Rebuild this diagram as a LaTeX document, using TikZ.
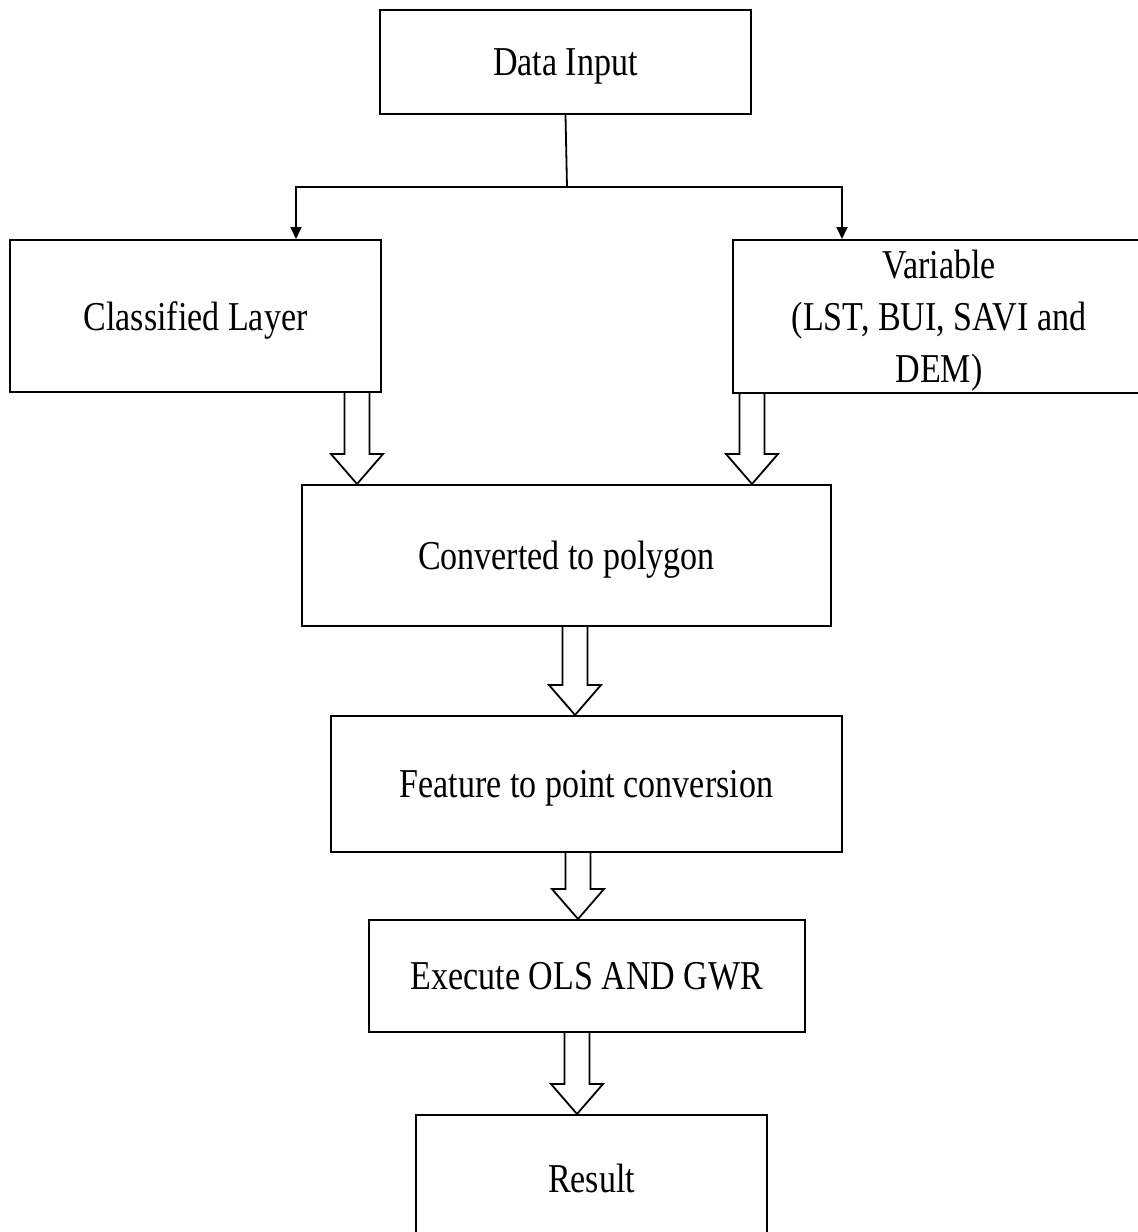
\documentclass[tikz,border=0pt]{standalone}
\usepackage{fontspec}
\setmainfont[FakeStretch=0.83]{Liberation Serif}
\usetikzlibrary{positioning,arrows.meta,calc}
\tikzset{
  box/.style={draw=black,line width=1pt,fill=white,align=center,inner sep=0pt,
              text depth=0pt,font=\fontsize{20.5}{26}\selectfont},
  arr/.style={-{Triangle[length=6pt,width=5.5pt]},line width=0.9pt,draw=black},
  barr/.style={draw=black,line width=0.9pt,fill=white,line join=miter}
}
% hollow block arrow: x position, from node, to node
\newcommand\blockarrow[3]{%
  \draw[barr] let \p3=(#1,0), \p1=(#2.south), \p2=(#3.north) in
    (\x3-6.25pt,\y1) -- (\x3-6.25pt,\y2+15pt) -- (\x3-13pt,\y2+15pt) -- (\x3,\y2)
    -- (\x3+13pt,\y2+15pt) -- (\x3+6.25pt,\y2+15pt) -- (\x3+6.25pt,\y1);}

\begin{document}
\begin{tikzpicture}[x=0.5pt,y=-0.5pt]
  \useasboundingbox (0,0) rectangle (1137,1232);
  \node[box,minimum width=185.5pt,minimum height=52pt] (din) at (565.5,62) {Data Input};
  \node[box,minimum width=185.5pt,minimum height=76pt] (cls) at (195.5,316) {Classified Layer};
  \node[box,minimum width=206pt,minimum height=76.5pt] (var) at (939,316.5) {Variable\\(LST, BUI, SAVI and\\DEM)};
  \node[box,minimum width=264.5pt,minimum height=70.5pt] (conv) at (566.5,555.5) {Converted to polygon};
  \node[box,minimum width=255.5pt,minimum height=68pt] (feat) at (586.5,784) {Feature to point conversion};
  \node[box,minimum width=218pt,minimum height=56pt] (exec) at (587,976) {Execute OLS AND GWR};
  \node[box,minimum width=175.5pt,minimum height=63pt] (res) at (591.5,1178) {Result};

  % split from the input
  \coordinate (jn) at (567,187);
  \draw[line width=0.9pt] (din.south) -- (jn);
  \draw[arr] (jn) -| ($(cls.north west)+(287,0)$);
  \draw[arr] (jn) -| ($(var.north west)+(110,0)$);

  \blockarrow{357}{cls}{conv}
  \blockarrow{752}{var}{conv}
  \blockarrow{575}{conv}{feat}
  \blockarrow{578}{feat}{exec}
  \blockarrow{577}{exec}{res}
\end{tikzpicture}
\end{document}
